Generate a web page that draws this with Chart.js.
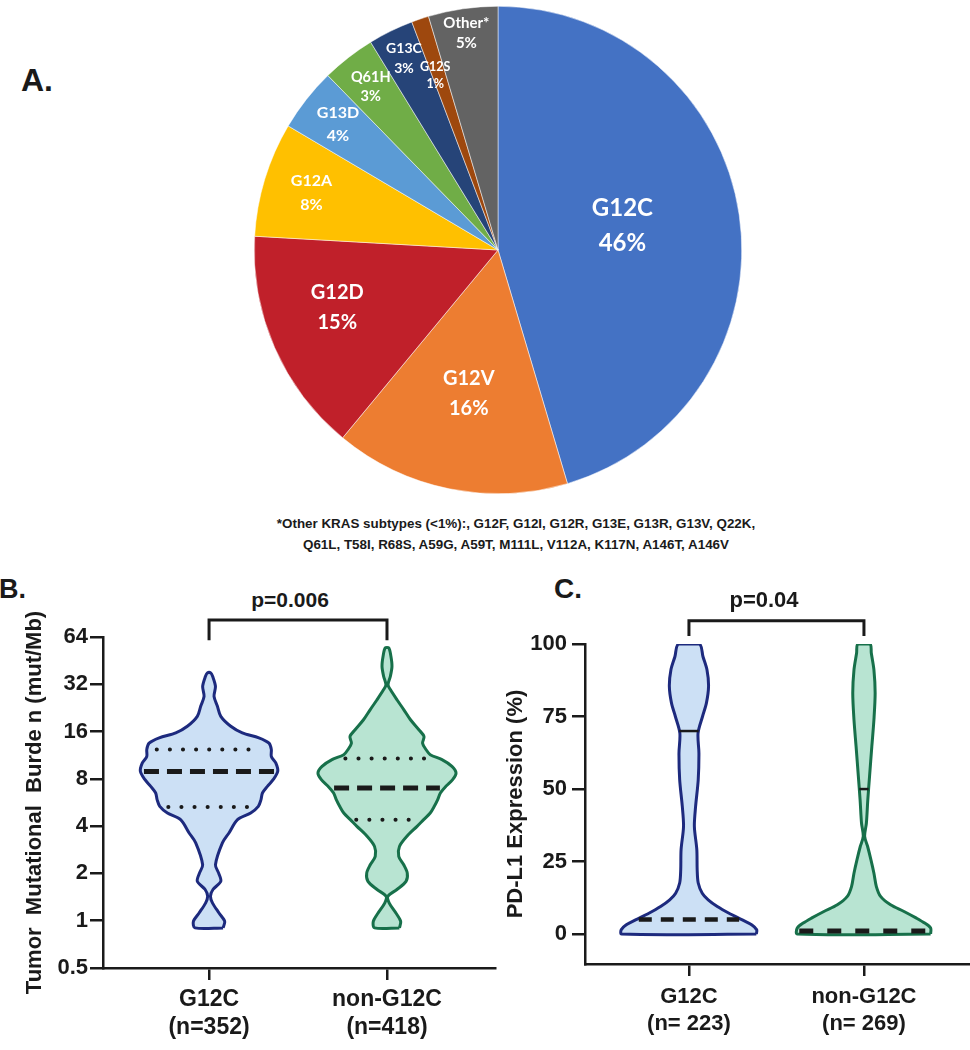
<!DOCTYPE html>
<html>
<head>
<meta charset="utf-8">
<script src="https://cdn.jsdelivr.net/npm/chart.js@4.4.1/dist/chart.umd.min.js"></script>
<style>
  body { margin: 0; background: #fff; }
  #wrap { position: relative; width: 970px; height: 1050px; overflow: hidden; font-family: "Liberation Sans", Arial, sans-serif; }
  canvas { position: absolute; }
  .lbl { position: absolute; font-weight: bold; color: #1a1a1a; line-height: 1; white-space: nowrap; }
  .note { position: absolute; left: 216px; top: 513px; width: 600px; text-align: center; font: bold 13.4px/21px "Liberation Sans Narrow", "Liberation Sans", Arial, sans-serif; color: #1a1a1a; }
</style>
</head>
<body>
<div id="wrap">
  <div class="lbl" style="left:21px;top:64px;font-size:32px">A.</div>
  <canvas id="pieChart" width="488" height="488" style="left:254px;top:6px"></canvas>
  <div class="note">*Other KRAS subtypes (&lt;1%):, G12F, G12I, G12R, G13E, G13R, G13V, Q22K,<br>Q61L, T58I, R68S, A59G, A59T, M111L, V112A, K117N, A146T, A146V</div>

  <div class="lbl" style="left:-1px;top:576px;font-size:27px">B.</div>
  <div class="lbl" style="left:190px;top:589px;width:200px;text-align:center;font-size:21px">p=0.006</div>
  <canvas id="tmbChart" width="500" height="490" style="left:0;top:560px"></canvas>

  <div class="lbl" style="left:554px;top:575px;font-size:28px">C.</div>
  <div class="lbl" style="left:664px;top:589px;width:200px;text-align:center;font-size:22px">p=0.04</div>
  <canvas id="pdl1Chart" width="490" height="490" style="left:480px;top:560px"></canvas>
</div>

<script>
// ---- A. KRAS subtype pie ----
const mutations = ['G12C', 'G12V', 'G12D', 'G12A', 'G13D', 'Q61H', 'G13C', 'G12S', 'Other*'];
const shares = [45.4, 15.6, 14.9, 7.6, 4.2, 3.55, 3.0, 1.15, 4.6];
const pctLabels = ['46%', '16%', '15%', '8%', '4%', '3%', '3%', '1%', '5%'];

// ---- B. tumor mutational burden violins (value levels, half widths) ----
const groups = [1, 2];
const tmbTicks = [0.5, 1, 2, 4, 8, 16, 32, 64];
const tmbXLabels = [['G12C', '(n=352)'], ['non-G12C', '(n=418)']];
const tmbLevelsG12C = [0.9, 0.99, 1.12, 1.3, 1.43, 1.58, 1.78, 2.01, 2.27, 3.13, 3.62, 4.4, 4.85, 5.35, 5.9, 6.5, 7.17, 7.9, 8.94, 10.1, 11.1, 12.3, 13.5, 14.6, 15.7, 17.3, 20, 23.2, 26.8, 31, 36, 37.8];
const tmbWidthG12C = [0.079, 0.088, 0.056, 0.019, 0.008, 0.022, 0.066, 0.054, 0.036, 0.075, 0.112, 0.16, 0.234, 0.277, 0.292, 0.3, 0.328, 0.36, 0.386, 0.375, 0.35, 0.35, 0.337, 0.28, 0.187, 0.122, 0.066, 0.047, 0.028, 0.036, 0.02, 0.01];
const tmbLevelsNon = [0.9, 0.99, 1.12, 1.3, 1.43, 1.58, 1.78, 2.01, 2.27, 2.57, 2.97, 3.45, 3.99, 4.4, 4.85, 5.35, 5.9, 6.5, 7.17, 7.9, 8.72, 9.61, 10.6, 11.4, 12.3, 13.5, 14.9, 16.5, 19.1, 22.1, 25.5, 29.6, 31.8, 36, 41.6, 48.2, 54.5];
const tmbWidthNon = [0.07, 0.077, 0.05, 0.012, 0.005, 0.056, 0.107, 0.114, 0.094, 0.066, 0.07, 0.112, 0.169, 0.206, 0.243, 0.266, 0.285, 0.3, 0.331, 0.369, 0.388, 0.365, 0.309, 0.243, 0.219, 0.2, 0.208, 0.178, 0.131, 0.094, 0.056, 0.019, 0.006, 0.019, 0.028, 0.022, 0.01];
const tmbMedian = [8.9, 7.0];
const tmbQ1 = [5.3, 4.4];
const tmbQ3 = [12.3, 10.8];
const tmbBracket = [61, 82];

// ---- C. PD-L1 expression violins ----
const pdl1Ticks = [0, 25, 50, 75, 100];
const pdl1XLabels = [['G12C', '(n= 223)'], ['non-G12C', '(n= 269)']];
const pdl1LevelsG12C = [0, 1.5, 3.2, 4.9, 7.2, 9.5, 11.8, 14.1, 17.6, 22.2, 29.1, 37.1, 44, 53.2, 62.4, 69.3, 75.1, 79.7, 85.4, 91.1, 95.7, 100];
const pdl1WidthG12C = [0.385, 0.387, 0.358, 0.305, 0.229, 0.162, 0.11, 0.076, 0.053, 0.047, 0.045, 0.031, 0.038, 0.053, 0.057, 0.052, 0.078, 0.1, 0.112, 0.103, 0.08, 0.06];
const pdl1LevelsNon = [0, 2.1, 3.8, 5.5, 7.8, 10.1, 13, 16.4, 21, 25.6, 30.2, 33.7, 38.3, 46.3, 54.4, 64.7, 73.9, 83.1, 91.1, 96.9, 100];
const pdl1WidthNon = [0.381, 0.381, 0.347, 0.3, 0.229, 0.152, 0.095, 0.071, 0.057, 0.04, 0.021, 0.004, 0.014, 0.022, 0.032, 0.045, 0.057, 0.064, 0.057, 0.042, 0.035];
const pdl1Median = [5, 1.1];
const pdl1Q3 = [70, 50];
const pdl1Bracket = [102.8, 108];

// styles
const pieColors = ['#4472C4', '#ED7D31', '#C0202A', '#FFC000', '#5B9BD5', '#70AD47', '#264478', '#9E480E', '#636363'];
const labelRadius = [0.52, 0.6, 0.7, 0.8, 0.835, 0.85, 0.877, 0.76, 0.9];
const labelShift = [-2.7, 0, 4, 0, 0, 0, 0, -1.2, 0];
const labelFont = [24, 20, 20, 16, 16, 14.5, 14, 12.5, 15];
const labelGap = [35, 30, 30, 24, 23, 19, 20, 17, 20];
const blueFill = 'rgba(204, 224, 245, 1)', blueLine = '#1d2a7e';
const greenFill = 'rgba(184, 228, 210, 1)', greenLine = '#17704a';
const ink = '#1a1a1a';
const sans = "'Liberation Sans', Arial, sans-serif";
const narrow = "'Liberation Sans Narrow', 'Liberation Sans', Arial, sans-serif";

const pieLabels = {
    id: 'pieLabels',
    afterDatasetsDraw(chart) {
        const ctx = chart.ctx;
        chart.getDatasetMeta(0).data.forEach((arc, i) => {
            const p = arc.getProps(['x', 'y', 'startAngle', 'endAngle', 'outerRadius'], true);
            const mid = (p.startAngle + p.endAngle) / 2 + labelShift[i] * Math.PI / 180;
            const r = p.outerRadius * labelRadius[i];
            const lx = p.x + Math.cos(mid) * r;
            const ly = p.y + Math.sin(mid) * r;
            ctx.save();
            ctx.fillStyle = '#fff';
            ctx.font = `bold ${labelFont[i]}px Lato, 'Open Sans', sans-serif`;
            ctx.textAlign = 'center';
            ctx.textBaseline = 'middle';
            ctx.fillText(mutations[i], lx, ly - labelGap[i] / 2);
            ctx.fillText(pctLabels[i], lx, ly + labelGap[i] / 2);
            ctx.restore();
        });
    }
};

new Chart(document.getElementById('pieChart'), {
    type: 'pie',
    data: {
        labels: mutations,
        datasets: [{
            data: shares,
            backgroundColor: pieColors,
            borderColor: '#fff',
            borderWidth: 0.5
        }]
    },
    options: {
        responsive: false,
        animation: false,
        devicePixelRatio: 1,
        layout: { padding: 0 },
        plugins: { legend: { display: false }, tooltip: { enabled: false } }
    },
    plugins: [pieLabels]
});

// helpers for the violins
function widthAt(levels, widths, v) {
    for (let i = 1; i < levels.length; i++) {
        if (v <= levels[i]) {
            const t = Math.max(0, (v - levels[i - 1]) / (levels[i] - levels[i - 1]));
            return widths[i - 1] + t * (widths[i] - widths[i - 1]);
        }
    }
    return widths[widths.length - 1];
}

function violin(levels, widths, pos, fillColor, lineColor) {
    const right = levels.map((v, i) => ({ x: pos + widths[i], y: v }));
    const left = levels.map((v, i) => ({ x: pos - widths[i], y: v })).reverse();
    return {
        data: right.concat(left, [right[0]]),
        showLine: true,
        fill: 'shape',
        indexAxis: 'y',
        backgroundColor: fillColor,
        borderColor: lineColor,
        borderWidth: 3,
        pointRadius: 0,
        tension: 0.3,
        order: 3
    };
}

function statLine(pos, value, hw, style) {
    return Object.assign({
        data: [{ x: pos - hw, y: value }, { x: pos + hw, y: value }],
        showLine: true,
        fill: false,
        borderColor: ink,
        pointRadius: 0,
        tension: 0,
        order: 1
    }, style);
}

function bracket(ends) {
    return {
        data: [{ x: groups[0], y: ends[0] }, { x: groups[0], y: ends[1] }, { x: groups[1], y: ends[1] }, { x: groups[1], y: ends[0] }],
        showLine: true,
        fill: false,
        borderColor: ink,
        borderWidth: 3,
        pointRadius: 0,
        tension: 0,
        clip: false,
        order: 1
    };
}

function violinOptions(cfg) {
    return {
        responsive: false,
        animation: false,
        devicePixelRatio: 1,
        layout: { padding: cfg.padding },
        plugins: { legend: { display: false }, tooltip: { enabled: false } },
        scales: {
            x: {
                type: 'linear',
                min: cfg.xMin,
                max: cfg.xMax,
                afterBuildTicks: (s) => { s.ticks = groups.map(v => ({ value: v })); },
                afterFit: (s) => { s.height = cfg.xHeight; },
                grid: { drawOnChartArea: false, drawTicks: true, tickLength: 12, tickColor: ink, lineWidth: 2.5 },
                border: { display: true, color: ink, width: 2.5 },
                ticks: {
                    autoSkip: false, maxRotation: 0, padding: cfg.xPad, color: ink,
                    font: cfg.xFont,
                    callback: (v, i) => cfg.xLabels[i]
                }
            },
            y: {
                type: cfg.yType,
                min: cfg.yMin,
                max: cfg.yMax,
                afterBuildTicks: (s) => { s.ticks = cfg.yTicks.map(v => ({ value: v })); },
                afterFit: (s) => { s.width = cfg.yWidth; },
                grid: { drawOnChartArea: false, drawTicks: true, tickLength: 13, tickColor: ink, lineWidth: 2.5 },
                border: { display: true, color: ink, width: 2.5 },
                ticks: {
                    padding: cfg.yPad, color: ink,
                    font: { family: sans, size: 22, weight: 'bold' },
                    callback: (v) => String(v)
                },
                title: {
                    display: true, text: cfg.yTitle, color: ink,
                    font: cfg.titleFont,
                    padding: { top: cfg.titlePad, bottom: 0 }
                }
            }
        }
    };
}

const dotted = { borderWidth: 4, borderDash: [0.1, 13], borderCapStyle: 'round' };

// B chart
const tmbSets = [
    bracket(tmbBracket),
    statLine(groups[0], tmbMedian[0], widthAt(tmbLevelsG12C, tmbWidthG12C, tmbMedian[0]) * 0.95, { borderWidth: 5, borderDash: [15, 8] }),
    statLine(groups[1], tmbMedian[1], widthAt(tmbLevelsNon, tmbWidthNon, tmbMedian[1]) * 0.92, { borderWidth: 5, borderDash: [15, 8] }),
    statLine(groups[0], tmbQ1[0], widthAt(tmbLevelsG12C, tmbWidthG12C, tmbQ1[0]) * 0.84, dotted),
    statLine(groups[0], tmbQ3[0], widthAt(tmbLevelsG12C, tmbWidthG12C, tmbQ3[0]) * 0.84, dotted),
    statLine(groups[1], tmbQ1[1], widthAt(tmbLevelsNon, tmbWidthNon, tmbQ1[1]) * 0.84, dotted),
    statLine(groups[1], tmbQ3[1], widthAt(tmbLevelsNon, tmbWidthNon, tmbQ3[1]) * 0.8, dotted),
    violin(tmbLevelsG12C, tmbWidthG12C, groups[0], blueFill, blueLine),
    violin(tmbLevelsNon, tmbWidthNon, groups[1], greenFill, greenLine)
];

new Chart(document.getElementById('tmbChart'), {
    type: 'scatter',
    data: { datasets: tmbSets },
    options: violinOptions({
        padding: { top: 77, right: 5, left: 0, bottom: 0 },
        xMin: 0.404, xMax: 2.607, xHeight: 82, xPad: 6,
        xLabels: tmbXLabels,
        xFont: { family: narrow, size: 23, weight: 'bold' },
        yType: 'logarithmic', yMin: 0.5, yMax: 64, yTicks: tmbTicks, yWidth: 103, yPad: 2,
        yTitle: 'Tumor  Mutational  Burde n (mut/Mb)',
        titleFont: { family: narrow, size: 22, weight: 'bold' },
        titlePad: 22
    })
});

// C chart
const pdl1Sets = [
    bracket(pdl1Bracket),
    statLine(groups[0], pdl1Median[0], widthAt(pdl1LevelsG12C, pdl1WidthG12C, pdl1Median[0]) * 0.95, { borderWidth: 4.5, borderDash: [13, 9] }),
    statLine(groups[1], pdl1Median[1], widthAt(pdl1LevelsNon, pdl1WidthNon, pdl1Median[1]) * 0.97, { borderWidth: 5, borderDash: [14, 14] }),
    statLine(groups[0], pdl1Q3[0], widthAt(pdl1LevelsG12C, pdl1WidthG12C, pdl1Q3[0]), { borderWidth: 2.5 }),
    statLine(groups[1], pdl1Q3[1], widthAt(pdl1LevelsNon, pdl1WidthNon, pdl1Q3[1]), { borderWidth: 2.5 }),
    violin(pdl1LevelsG12C, pdl1WidthG12C, groups[0], blueFill, blueLine),
    violin(pdl1LevelsNon, pdl1WidthNon, groups[1], greenFill, greenLine)
];

new Chart(document.getElementById('pdl1Chart'), {
    type: 'scatter',
    data: { datasets: pdl1Sets },
    options: violinOptions({
        padding: { top: 84, right: 0, left: 0, bottom: 0 },
        xMin: 0.406, xMax: 2.606, xHeight: 86, xPad: 8,
        xLabels: pdl1XLabels,
        xFont: { family: sans, size: 22, weight: 'bold' },
        yType: 'linear', yMin: -10.3, yMax: 100, yTicks: pdl1Ticks, yWidth: 105, yPad: 5,
        yTitle: 'PD-L1 Expression (%)',
        titleFont: { family: sans, size: 22, weight: 'bold' },
        titlePad: 23
    })
});
</script>
</body>
</html>
